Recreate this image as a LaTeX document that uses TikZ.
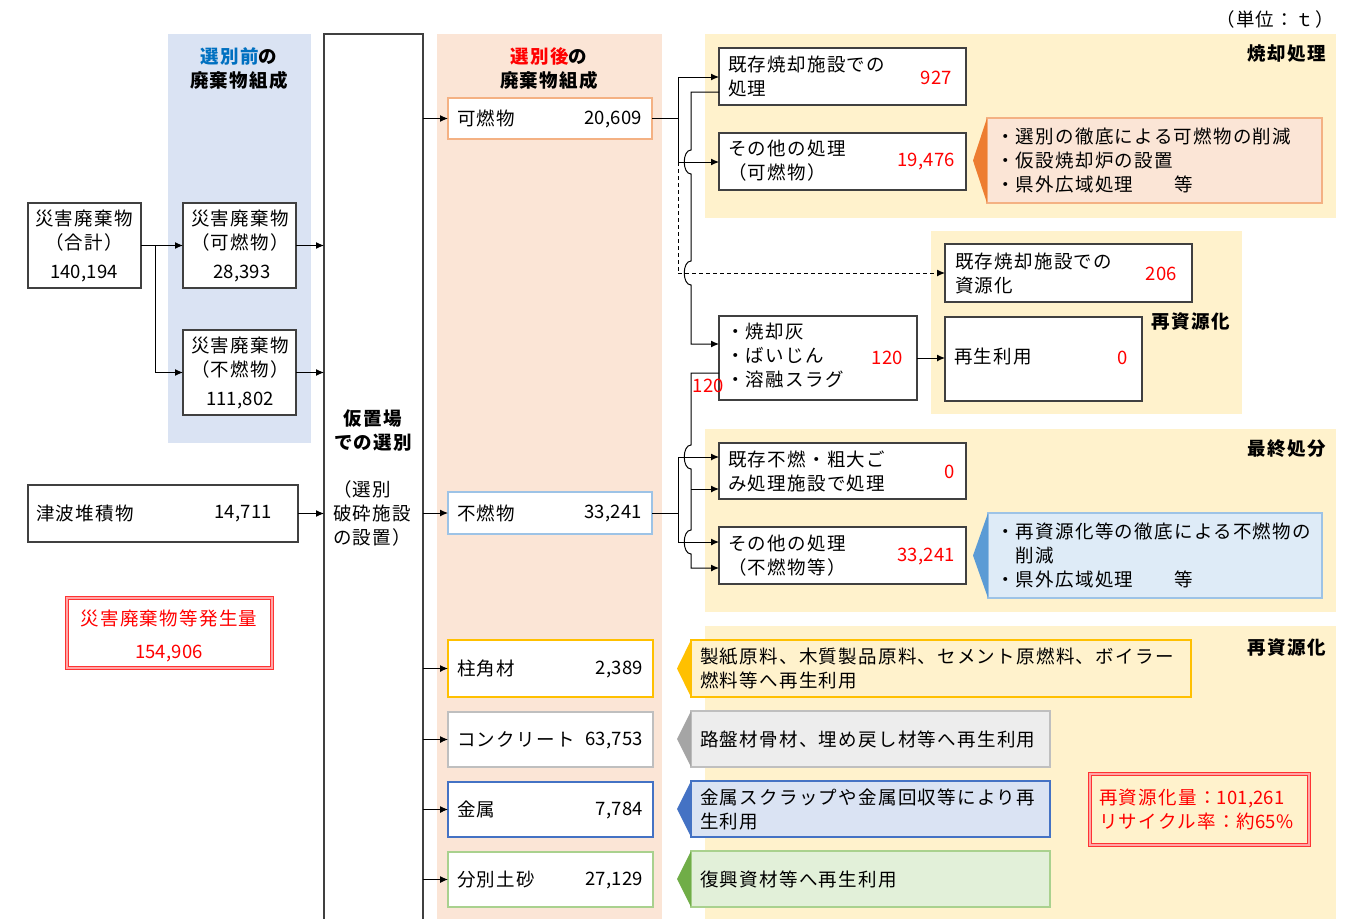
\documentclass[tikz,border=0pt]{standalone}
\usepackage{fontspec}
\setmainfont{Noto Sans CJK JP}[LetterSpace=7]
\newfontfamily\numfont{Noto Sans CJK JP}[LetterSpace=1]
\usetikzlibrary{arrows.meta,calc,fit}
\definecolor{bluebg}{HTML}{DAE3F3}
\definecolor{orbg}{HTML}{FBE5D6}
\definecolor{yel}{HTML}{FFF2CC}
\definecolor{ttlblue}{HTML}{0070C0}
\definecolor{boxgray}{HTML}{404040}
\definecolor{cor}{HTML}{F4B183}
\definecolor{cdor}{HTML}{ED7D31}
\definecolor{clb}{HTML}{9DC3E6}
\definecolor{clbd}{HTML}{5B9BD5}
\definecolor{clbf}{HTML}{DEEBF7}
\definecolor{cgold}{HTML}{FFC000}
\definecolor{cgray}{HTML}{BFBFBF}
\definecolor{cgrayd}{HTML}{A5A5A5}
\definecolor{cgrayf}{HTML}{EDEDED}
\definecolor{cblue}{HTML}{4472C4}
\definecolor{cgreen}{HTML}{A9D18E}
\definecolor{cgreend}{HTML}{70AD47}
\definecolor{cgreenf}{HTML}{E2F0D9}
\definecolor{cred}{HTML}{FF0000}
\newcommand\hopover[1]{-- ($#1+(0,-12)$) .. controls ($#1+(-9,-12)$) and ($#1+(-9,12)$) .. ($#1+(0,12)$)}
\tikzset{
  panel/.style={draw=none, inner sep=0pt, outer sep=0pt},
  box/.style={draw=boxgray, line width=1.2pt, fill=white, inner sep=0pt, outer sep=0pt},
  cbody/.style={line width=1.2pt, inner sep=0pt, outer sep=0pt},
  redbox/.style={draw=cred!80, double=cred!35, double distance=1.2pt, line width=1pt, inner sep=0pt, outer sep=0pt},
  txt/.style={font=\fontsize{18.5}{24}\selectfont, inner sep=0pt, align=left},
  num/.style={font=\fontsize{18.5}{24}\selectfont\numfont, inner sep=0pt},
  rednum/.style={num, text=cred},
  head/.style={font=\fontsize{18.5}{24}\selectfont\bfseries, inner sep=0pt, align=center},
  arr/.style={-{Latex[length=8pt,width=7pt]}, line width=1pt, draw=black},
  conn/.style={line width=1pt, draw=black},
  dashline/.style={dash pattern=on 4pt off 3pt},
}
\begin{document}
\begin{tikzpicture}[x=1pt,y=-1pt]
\useasboundingbox (0,0) rectangle (1370,918);
\fill[white] (0,0) rectangle (1370,918);

% panels
\node[panel, fill=bluebg, fit={(168,34) (311,443)}] (pre) {};
\node[panel, fill=orbg, fit={(437,34) (662,925)}] (post) {};
\node[panel, fill=yel, fit={(705,34) (1336,218)}] (pinc) {};
\node[panel, fill=yel, fit={(931,231) (1242,414)}] (prec1) {};
\node[panel, fill=yel, fit={(705,429) (1336,612)}] (pfin) {};
\node[panel, fill=yel, fit={(705,626) (1336,925)}] (prec2) {};

% titles
\node[txt, anchor=east] (unit) at (1334,19) {（単位：ｔ）};
\node[head] (pretitle) at (239,69) {\textcolor{ttlblue}{選別前}の\\廃棄物組成};
\node[head] (posttitle) at (549,69) {\textcolor{cred}{選別後}の\\廃棄物組成};
\node[head, anchor=east] (lblinc) at (1326,54) {焼却処理};
\node[head, anchor=east] (lblrec1) at (1230,322) {再資源化};
\node[head, anchor=east] (lblfin) at (1326,449) {最終処分};
\node[head, anchor=east] (lblrec2) at (1326,647) {再資源化};

% left boxes
\node[box, fit={(28,203) (141,288)}] (total) {};
\node[txt, align=center] (totalt) at (84,230.5) {災害廃棄物\\（合計）};
\node[num] (totaln) at (84,274) {140,194};
\node[box, fit={(183,203) (296,288)}] (bur) {};
\node[txt, align=center] (burt) at (240,230.5) {災害廃棄物\\（可燃物）};
\node[num] (burn) at (242,274) {28,393};
\node[box, fit={(183,330) (296,415)}] (inc) {};
\node[txt, align=center] (inct) at (240,357.5) {災害廃棄物\\（不燃物）};
\node[num] (incn) at (240,401) {111,802};
\node[box, fit={(28,485) (298,542)}] (tsu) {};
\node[txt, anchor=west] (tsut) at (36,513) {津波堆積物};
\node[num, anchor=east] (tsun) at (272,514) {14,711};
\node[redbox, fill=white, fit={(67,598) (272,668)}] (gen) {};
\node[txt, text=cred, align=center] (gent) at (169,618) {災害廃棄物等発生量};
\node[num, text=cred] (genn) at (169,654) {154,906};

% tall box
\node[fit={(324,34) (423,925)}, draw=black!75, fill=white, line width=1.2pt, inner sep=0pt, outer sep=0pt] (kari) {};
\node[head] (karih) at (373,430) {仮置場\\での選別};
\node[txt, anchor=west] (karit) at (333,513.5) {（選別\\破砕施設\\の設置）};

% left connectors
\coordinate (j1) at (155,245.5);
\draw[arr] (total.east) -- (bur.west);
\draw[arr] (j1) |- (inc.west);
\draw[arr] (bur.east) -- (bur.east -| kari.west);
\draw[arr] (inc.east) -- (inc.east -| kari.west);
\draw[arr] (tsu.east) -- (tsu.east -| kari.west);

% sorted boxes
\node[box, draw=cor, fit={(448,98) (652,139)}] (kanen) {};
\node[txt, anchor=west] at (457,118.5) {可燃物};
\node[num, anchor=east] at (642,119.5) {20,609};
\node[box, draw=clb, fit={(448,492) (652,534)}] (funen) {};
\node[txt, anchor=west] at (457,513) {不燃物};
\node[num, anchor=east] at (642,514) {33,241};
\node[box, draw=cgold, fit={(448,640) (653,697)}] (hashira) {};
\node[txt, anchor=west] at (457,668.5) {柱角材};
\node[num, anchor=east] at (643,669.5) {2,389};
\node[box, draw=cgray, fit={(448,712) (653,767)}] (conc) {};
\node[txt, anchor=west] at (457,739.5) {コンクリート};
\node[num, anchor=east] at (643,740.5) {63,753};
\node[box, draw=cblue, fit={(448,782) (653,837)}] (metal) {};
\node[txt, anchor=west] at (457,809.5) {金属};
\node[num, anchor=east] at (643,810.5) {7,784};
\node[box, draw=cgreen, fit={(448,852) (653,907)}] (soil) {};
\node[txt, anchor=west] at (457,879.5) {分別土砂};
\node[num, anchor=east] at (643,880.5) {27,129};

\foreach \n in {kanen,funen,hashira,conc,metal,soil}
  \draw[arr] (\n.west -| kari.east) -- (\n.west);

% incineration boxes
\node[box, fit={(719,48) (966,105)}] (kiz) {};
\node[txt, anchor=west] at (728,76.5) {既存焼却施設での\\処理};
\node[rednum, anchor=east] at (952,77.5) {927};
\node[box, fit={(719,133) (966,190)}] (sonota1) {};
\node[txt, anchor=west] at (728,161) {その他の処理\\（可燃物）};
\node[rednum, anchor=east] at (955,162) {19,476};
\node[cbody, fill=orbg, draw=cor, fit={(987,118) (1322,203)}] (co1) {};
\coordinate (co1tip) at (973,160.5);
\fill[cdor] (co1.north west) -- (co1tip) -- (co1.south west) -- cycle;
\node[txt, anchor=west] at (996,160) {・選別の徹底による可燃物の削減\\・仮設焼却炉の設置\\・県外広域処理　　等};

% recycling middle
\node[box, fit={(945,244) (1192,302)}] (shig) {};
\node[txt, anchor=west] at (955,273) {既存焼却施設での\\資源化};
\node[rednum, anchor=east] at (1177,274) {206};
\node[box, fit={(945,317) (1142,401)}] (saisei) {};
\node[txt, anchor=west] at (954,357) {再生利用};
\node[rednum, anchor=east] at (1128,358) {0};
\node[box, fit={(719,316) (917,400)}] (ash) {};
\node[txt, anchor=west] at (726,355.5) {・焼却灰\\・ばいじん\\・溶融スラグ};
\node[rednum, anchor=east] at (903,358) {120};
\draw[arr] (ash.east) -- (ash.east -| saisei.west);
\node[rednum, anchor=west] (ash120) at (692.5,386) {120};

% final disposal
\node[box, fit={(719,443) (966,499)}] (kizf) {};
\node[txt, anchor=west] at (728,471) {既存不燃・粗大ご\\み処理施設で処理};
\node[rednum, anchor=east] at (955,472) {0};
\node[box, fit={(719,527) (966,584)}] (sonota2) {};
\node[txt, anchor=west] at (728,555.5) {その他の処理\\（不燃物等）};
\node[rednum, anchor=east] at (955,556.5) {33,241};
\node[cbody, fill=clbf, draw=clb, fit={(988,513) (1322,598)}] (co2) {};
\coordinate (co2tip) at (973,555.5);
\fill[clbd] (co2.north west) -- (co2tip) -- (co2.south west) -- cycle;
\node[txt, anchor=west] at (996,555) {・再資源化等の徹底による不燃物の\\　削減\\・県外広域処理　　等};

% bottom callouts
\node[cbody, fill=yel, draw=cgold, fit={(691,640) (1191,697)}] (co3) {};
\fill[cgold] (co3.north west) -- (677,668.5) -- (co3.south west) -- cycle;
\node[txt, anchor=west] at (700,668) {製紙原料、木質製品原料、セメント原燃料、ボイラー\\燃料等へ再生利用};
\node[cbody, fill=cgrayf, draw=cgray, fit={(691,711) (1050,767)}] (co4) {};
\fill[cgrayd] (co4.north west) -- (677,739) -- (co4.south west) -- cycle;
\node[txt, anchor=west] at (700,739) {路盤材骨材、埋め戻し材等へ再生利用};
\node[cbody, fill=bluebg, draw=cblue, fit={(691,781) (1050,837)}] (co5) {};
\fill[cblue] (co5.north west) -- (677,809) -- (co5.south west) -- cycle;
\node[txt, anchor=west] at (700,809) {金属スクラップや金属回収等により再\\生利用};
\node[cbody, fill=cgreenf, draw=cgreen, fit={(691,851) (1050,907)}] (co6) {};
\fill[cgreend] (co6.north west) -- (677,879) -- (co6.south west) -- cycle;
\node[txt, anchor=west] at (700,879) {復興資材等へ再生利用};

\node[redbox, fit={(1090,774) (1309,845)}] (recy) {};
\node[txt, text=cred, anchor=west] at (1099,809) {再資源化量：{\numfont 101,261}\\リサイクル率：約{\numfont 65\%}};

% right connectors
\coordinate (tr1) at (678,0);
\coordinate (tr2) at (691,0);
\coordinate (inK1) at (719,77);
\coordinate (inK2) at (719,162);
\coordinate (kout) at (719,92);
\coordinate (inAsh) at (719,344);
\coordinate (aout) at (719,373);
\coordinate (inA) at (719,457);
\coordinate (inB) at (719,489);
\coordinate (inC) at (719,542);
\coordinate (inD) at (719,568);

\draw[conn] (kanen.east) -- (kanen.east -| tr1);
\draw[conn] (tr1 |- inK1) -- (tr1 |- inK2);
\draw[arr] (tr1 |- inK1) -- (inK1);
\draw[arr] (tr1 |- inK2) -- (inK2);
\draw[conn, dashline] (tr1 |- inK2) -- (tr1 |- shig.west);
\draw[arr, dashline] (tr1 |- shig.west) -- (shig.west);

\draw[arr] (kout) -- (kout -| tr2) \hopover{(tr2 |- inK2)} \hopover{(tr2 |- shig.west)} -- (tr2 |- inAsh) -- (inAsh);

\draw[conn] (funen.east) -- (funen.east -| tr1);
\draw[conn] (tr1 |- inA) -- (tr1 |- inC);
\draw[arr] (tr1 |- inA) -- (inA);
\draw[arr] (tr1 |- inC) -- (inC);

\draw[arr] (aout) -- (aout -| tr2) \hopover{(tr2 |- inA)} -- (tr2 |- inB) \hopover{(tr2 |- inC)} -- (tr2 |- inD) -- (inD);
\draw[arr] (tr2 |- inB) -- (inB);
\end{tikzpicture}
\end{document}
